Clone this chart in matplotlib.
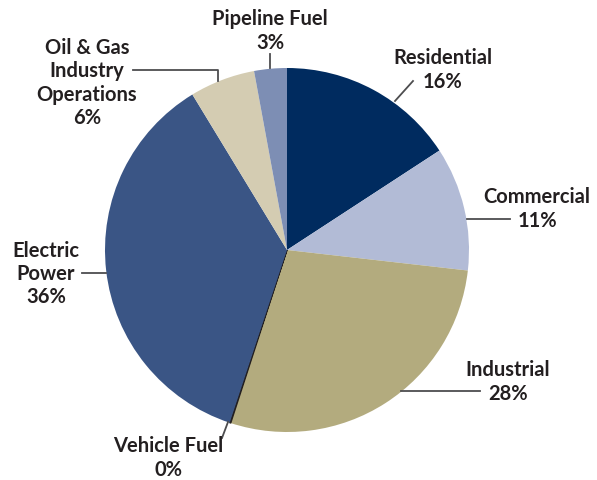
import matplotlib
matplotlib.use("Agg")
import matplotlib.pyplot as plt

# parts du total, sens horaire depuis midi
secteurs = ["Residential", "Commercial", "Industrial", "Vehicle Fuel",
            "Electric Power", "Oil & Gas Industry Operations", "Pipeline Fuel"]
valeurs = [15.8, 11.0, 28.2, 0.1, 36.2, 5.8, 2.9]
etiquettes = ["Residential\n16%", "Commercial\n11%", "Industrial\n28%",
              "Vehicle Fuel\n0%", "Electric\nPower\n36%",
              "Oil & Gas\nIndustry\nOperations\n6%", "Pipeline Fuel\n3%"]
couleurs = ["#002b5f", "#b2bbd6", "#b3ab7e", "#231f20",
            "#3a5585", "#d4ccb2", "#7d8eb4"]

W, H = 597, 481
fig = plt.figure(figsize=(W / 100, H / 100), dpi=100)
ax = fig.add_axes([0, 0, 1, 1])

def py(y):
    return H - y

wedges, _ = ax.pie(valeurs, colors=couleurs, startangle=90, counterclock=False,
                   center=(287, py(251)), radius=182, frame=True,
                   wedgeprops=dict(linewidth=0))
wedges[3].set_edgecolor("#231f20")
wedges[3].set_linewidth(0.9)

ax.set_xlim(0, W)
ax.set_ylim(0, H)
ax.set_aspect("equal")
ax.axis("off")

txt = dict(ha="center", va="center", fontsize=14.5, fontweight="bold",
           family="Lato", color="#231f20", linespacing=1.2)
lig = dict(color="#4d4d4f", lw=1.3)

# texte (x, y) et lignes de rappel, en pixels
pos = [(443, 70), (537, 209), (508, 382), (168, 458), (46, 274), (87, 83), (270, 31)]
rappels = [
    [(395, 102), (413, 82)],
    [(467, 220), (510, 220)],
    [(401, 392), (480, 392)],
    [(228, 423), (222, 439)],
    [(82, 274), (106, 274)],
    [(133, 71), (218, 71), (218, 82)],
    [(270, 55), (270, 69)],
]

for lab, (x, y) in zip(etiquettes, pos):
    ax.text(x, py(y), lab, **txt)

for pts in rappels:
    ax.plot([p[0] for p in pts], [py(p[1]) for p in pts], **lig)

fig.savefig("out.png", dpi=100, facecolor="white")
